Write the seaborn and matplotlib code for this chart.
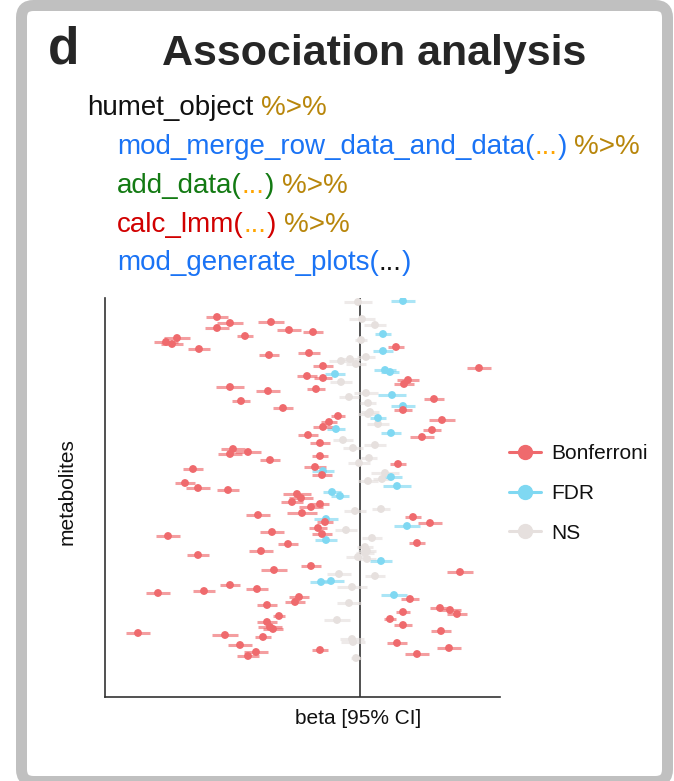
import matplotlib
matplotlib.use('Agg')
import matplotlib.pyplot as plt
from matplotlib.patches import FancyBboxPatch
from matplotlib.lines import Line2D
import seaborn as sns
import pandas as pd

# beta estimates, CI half widths and row position (0 = top row) per metabolite
bonf_beta = [-1.43, -0.89, -1.30, -1.43, -0.71, -0.47, -1.15, -1.83, -1.94, -1.88, 0.36, -1.61,
             -0.51, -0.91, -0.37, 1.19, -0.53, -0.37, 0.48, 0.44, -1.30, -0.44, -0.92, 0.74,
             -1.19, -0.77, 0.43, -0.22, 0.82, -0.31, -0.37, 0.72, -0.52, 0.62, -0.40, -1.27,
             -1.12, -1.30, -0.40, -0.90, 0.38, -0.45, -1.67, -0.38, -1.75, -1.62, -1.32, -0.63,
             -0.59, -0.68, -0.40, -0.49, -0.58, -1.02, 0.53, -0.35, 0.70, -0.42, -0.88, -0.38,
             -1.92, 0.57, -0.72, -0.99, -1.62, -0.49, -0.86, 1.00, -1.30, -1.03, -1.56, -2.02,
             -0.61, 0.50, -0.65, -0.93, 0.80, 0.90, 0.43, 0.97, -0.81, 0.30, -0.93, 0.43,
             -0.90, -0.87, 0.81, -2.22, -1.35, -0.97, 0.37, -1.20, 0.89, -0.40, -1.04, 0.57, -1.12]
bonf_ci = [0.11, 0.13, 0.13, 0.12, 0.12, 0.10, 0.08, 0.13, 0.12, 0.11, 0.08, 0.11,
           0.11, 0.10, 0.10, 0.12, 0.10, 0.09, 0.11, 0.10, 0.14, 0.09, 0.12, 0.10,
           0.09, 0.10, 0.09, 0.07, 0.13, 0.08, 0.10, 0.09, 0.10, 0.12, 0.10, 0.12,
           0.13, 0.12, 0.08, 0.10, 0.08, 0.11, 0.10, 0.10, 0.10, 0.12, 0.11, 0.14,
           0.12, 0.11, 0.09, 0.12, 0.15, 0.12, 0.08, 0.08, 0.12, 0.09, 0.12, 0.10,
           0.12, 0.08, 0.10, 0.12, 0.11, 0.10, 0.13, 0.13, 0.10, 0.11, 0.11, 0.12,
           0.10, 0.09, 0.10, 0.10, 0.10, 0.11, 0.07, 0.10, 0.06, 0.06, 0.10, 0.09,
           0.12, 0.10, 0.10, 0.12, 0.13, 0.08, 0.10, 0.12, 0.12, 0.08, 0.12, 0.12, 0.11]
bonf_row = [19, 24, 25, 30, 32, 34, 38, 40, 44, 46, 49, 51,
            55, 57, 68, 70, 78, 80, 82, 86, 89, 91, 93, 101,
            103, 110, 112, 118, 122, 124, 129, 132, 137, 139, 145, 151,
            154, 156, 158, 162, 166, 169, 171, 177, 185, 190, 192, 196,
            200, 204, 206, 209, 215, 217, 219, 224, 225, 230, 234, 236,
            238, 245, 246, 253, 257, 268, 272, 274, 287, 291, 293, 295,
            299, 301, 304, 307, 310, 312, 314, 316, 318, 321, 324, 327,
            329, 331, 333, 335, 337, 339, 345, 347, 350, 352, 354, 356, 358]

fdr_beta = [0.43, 0.23, 0.23, 0.25, 0.30, -0.25, 0.32, 0.43, 0.18, -0.24, 0.31, -0.37,
            0.31, 0.37, -0.28, -0.20, -0.34, 0.47, -0.34, 0.21, -0.29, -0.39, 0.34]
fdr_ci = [0.12, 0.08, 0.10, 0.11, 0.09, 0.10, 0.14, 0.12, 0.08, 0.09, 0.10, 0.11,
          0.11, 0.14, 0.09, 0.09, 0.12, 0.13, 0.11, 0.11, 0.13, 0.11, 0.13]
fdr_row = [3, 36, 53, 72, 74, 76, 97, 108, 120, 131, 135, 173,
           179, 188, 194, 198, 221, 228, 242, 263, 283, 284, 297]

ns_beta = [-0.02, 0.02, 0.15, 0.01, 0.06, -0.10, -0.19, -0.04, -0.19, 0.06, -0.11, 0.08,
           0.10, 0.08, 0.18, -0.17, 0.15, -0.07, 0.09, -0.01, 0.25, 0.22, 0.08, 0.21,
           -0.05, -0.14, 0.12, 0.05, 0.07, 0.05, -0.02, 0.07, -0.21, 0.15, -0.08, -0.11,
           -0.23, -0.08, -0.07, -0.04]
ns_ci = [0.14, 0.13, 0.11, 0.06, 0.09, 0.10, 0.12, 0.10, 0.11, 0.12, 0.10, 0.08,
         0.09, 0.10, 0.11, 0.10, 0.11, 0.10, 0.08, 0.11, 0.14, 0.09, 0.10, 0.09,
         0.11, 0.11, 0.10, 0.08, 0.09, 0.09, 0.12, 0.09, 0.12, 0.10, 0.15, 0.12,
         0.13, 0.12, 0.12, 0.05]
ns_row = [4, 21, 27, 42, 59, 61, 63, 66, 84, 95, 99, 105,
          114, 116, 126, 142, 147, 150, 160, 165, 175, 181, 183, 211,
          213, 232, 240, 249, 253, 255, 259, 261, 276, 278, 289, 305,
          322, 341, 344, 360]

groups = ['NS', 'FDR', 'Bonferroni']
palette = {'Bonferroni': '#ef6a6d', 'FDR': '#7fd8f2', 'NS': '#e6e0de'}

df = pd.concat([
    pd.DataFrame({'beta': ns_beta, 'ci': ns_ci, 'row': ns_row, 'sig': 'NS'}),
    pd.DataFrame({'beta': fdr_beta, 'ci': fdr_ci, 'row': fdr_row, 'sig': 'FDR'}),
    pd.DataFrame({'beta': bonf_beta, 'ci': bonf_ci, 'row': bonf_row, 'sig': 'Bonferroni'}),
], ignore_index=True)

sns.set_theme(style='white')
plt.rcParams['font.family'] = ['Liberation Sans', 'DejaVu Sans']

W, H = 674, 781
fig = plt.figure(figsize=(W / 100, H / 100), dpi=100)
ax = fig.add_axes([105 / W, 84 / H, 395 / W, 399 / H])

# CI lines first, then points on top
for g in groups:
    sub = df[df.sig == g]
    ax.hlines(sub.row, sub.beta - sub.ci, sub.beta + sub.ci, colors=palette[g],
              linewidth=2.2, alpha=0.65, zorder=2)
sns.scatterplot(data=df, x='beta', y='row', hue='sig', palette=palette, hue_order=groups,
                s=32, linewidth=0, legend=False, ax=ax, zorder=3)

ax.axvline(0, color='#222222', linewidth=1.1, zorder=1)
ax.set_xlim(-2.55, 1.40)
ax.set_ylim(399, 0)
ax.set_xticks([])
ax.set_yticks([])
for side in ['top', 'right']:
    ax.spines[side].set_visible(False)
for side in ['left', 'bottom']:
    ax.spines[side].set_color('#333333')
    ax.spines[side].set_linewidth(1.2)

ax.set_xlabel('beta [95% CI]', fontsize=15, color='#111111')
ax.xaxis.label.set_va('center')
ax.xaxis.set_label_coords((358 - 105) / 395, -21 / 399)
ax.set_ylabel('metabolites', fontsize=15, color='#111111')
ax.yaxis.label.set_va('center')
ax.yaxis.set_label_coords((67 - 105) / 395, (697 - 492) / 399)

handles = [Line2D([0], [0], color=palette[g], marker='o', markersize=10, linewidth=2.2)
           for g in ['Bonferroni', 'FDR', 'NS']]
leg = fig.legend(handles, ['Bonferroni', 'FDR', 'NS'], loc='upper left',
                 bbox_to_anchor=(509 / W, 1 - 444 / H), frameon=False, fontsize=15,
                 handlelength=1.55, handletextpad=0.5, labelspacing=1.0,
                 borderpad=0, borderaxespad=0)
for t in leg.get_texts():
    t.set_color('#111111')

# gray panel frame
frame = FancyBboxPatch((21.5 / 100, -0.5 / 100), 646 / 100, 776 / 100,
                       boxstyle='round,pad=0,rounding_size=0.12',
                       transform=fig.dpi_scale_trans, facecolor='none',
                       edgecolor='#c0c0c0', linewidth=7.9, zorder=0)
fig.patches.append(frame)

# header
fig.text(48 / W, 1 - 63 / H, 'd', fontsize=37, fontweight='bold', va='baseline', ha='left')
fig.text(162 / W, 1 - 65 / H, 'Association analysis', fontsize=31, fontweight='bold',
         va='baseline', ha='left')

# pipeline code, drawn piece by piece in colour
black = '#111111'
gold = '#b8860b'
blue = '#1a73f5'
green = '#137a13'
red = '#d10000'
orange = '#ffa500'
code_lines = [
    (87, 115, [('humet_object', black), (' ', None), ('%>%', gold)]),
    (117, 154, [('mod_merge_row_data_and_data(', blue), ('...', orange), (')', blue),
                (' ', None), ('%>%', gold)]),
    (117, 193, [('add_data(', green), ('...', orange), (')', green), (' ', None), ('%>%', gold)]),
    (117, 232, [('calc_lmm(', red), ('...', orange), (')', red), (' ', None), ('%>%', gold)]),
    (117, 270, [('mod_generate_plots(', blue), ('...', black), (')', blue)]),
]
renderer = fig.canvas.get_renderer()
code_size = 20
for x0, y0, pieces in code_lines:
    x = x0
    for s, c in pieces:
        if c is None:
            x += 0.278 * code_size / 0.72
            continue
        t = fig.text(x / W, 1 - y0 / H, s, color=c, fontsize=code_size, va='baseline', ha='left')
        x += t.get_window_extent(renderer).width

fig.savefig('out.png', dpi=100, facecolor='white')
